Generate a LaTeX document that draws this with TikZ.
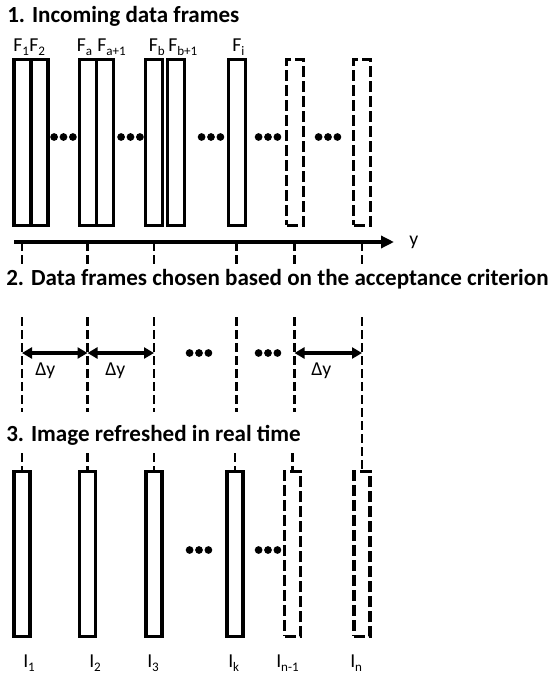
\documentclass[tikz,border=0pt]{standalone}
\usepackage{fontspec}
\setmainfont{Carlito}
\usetikzlibrary{arrows.meta}
\newcommand\subtxt[1]{\raisebox{-3.2pt}{\fontsize{9.8pt}{10pt}\selectfont #1}}
\begin{document}
\begin{tikzpicture}[x=0.75pt,y=-0.75pt,
  frameA/.style={draw, line width=2.6pt, minimum width=12.75pt, minimum height=124.1pt, inner sep=0pt, outer sep=0pt},
  frameAd/.style={frameA, dash pattern=on 8.25pt off 3pt},
  frameB/.style={draw, line width=2.6pt, minimum width=12pt, minimum height=123.4pt, inner sep=0pt, outer sep=0pt},
  frameBd/.style={frameB, dash pattern=on 8.25pt off 3pt},
  dline/.style={line width=2pt, dash pattern=on 6.75pt off 3pt},
  title/.style={font=\bfseries\fontsize{17.3pt}{20pt}\selectfont, anchor=base west, inner sep=0pt},
  lab/.style={font=\fontsize{14.8pt}{17pt}\selectfont, anchor=base west, inner sep=0pt},
  dbl/.style={line width=2.4pt, {Triangle[length=7.5pt,width=8.25pt]}-{Triangle[length=7.5pt,width=8.25pt]}},
  threedots/.pic={\fill (-9.4,0) circle[radius=2.9pt] (0,0) circle[radius=2.9pt] (9.4,0) circle[radius=2.9pt];}
]
\useasboundingbox (0,0) rectangle (551,674);

% ---------- titles ----------
\node[title] (t1) at (7,23) {1. Incoming data frames};
\node[title] (t2) at (6,285) {2. Data frames chosen based on the acceptance criterion};
\node[title] (t3) at (6,441) {3. Image refreshed in real time};

% ---------- section 1: frames ----------
\node[frameA] (F1) at (22.5,142.5) {};
\node[frameA] (F2) at (39.5,142.5) {};
\node[frameA] (Fa) at (88,142.5) {};
\node[frameA] (Fa1) at (105,142.5) {};
\node[frameA] (Fb) at (154,142.5) {};
\node[frameA] (Fb1) at (175.75,142.5) {};
\node[frameA] (Fi) at (237,142.5) {};
\node[frameAd] (Fd1) at (295,142.5) {};
\node[frameAd] (Fd2) at (362,142.5) {};

\node[lab] (lF1) at (13,51) {F\subtxt{1}};
\node[lab] (lF2) at (29,51) {F\subtxt{2}};
\node[lab] (lFa) at (76.5,51) {F\subtxt{a}};
\node[lab] (lFa1) at (97,51) {F\subtxt{a+1}};
\node[lab] (lFb) at (148.5,51) {F\subtxt{b}};
\node[lab] (lFb1) at (168,51) {F\subtxt{b+1}};
\node[lab] (lFi) at (232,51) {F\subtxt{i}};

\pic at (63.5,137) {threedots};
\pic at (130.5,137) {threedots};
\pic at (211,137) {threedots};
\pic at (268,137) {threedots};
\pic at (328,137) {threedots};

% ---------- axis ----------
\coordinate (axL) at (14,242);
\coordinate (axR) at (394,242);
\draw[line width=2.5pt, -{Triangle[length=9.75pt,width=9pt]}] (axL) -- (axR);
\node[lab] (ylab) at (409,245) {y};

\foreach \n/\c in {1/22,2/87.5,3/154,4/236.5,5/294.5,6/362}{
  \coordinate (a\n) at (\c,242);
  \coordinate (b\n) at (\c,265);
  \coordinate (u\n) at (\c,317);
  \coordinate (v\n) at (\c,412);
  \coordinate (w\n) at (\c,353);
  \coordinate (s\n) at (\c,453);
  \draw[dline] (a\n) -- (b\n);
}
\foreach \n in {1,...,5}{ \draw[dline] (u\n) -- (v\n); }

% ---------- section 2 ----------
\draw[dbl] (w1) -- (w2);
\draw[dbl] (w2) -- (w3);
\draw[dbl] (w5) -- (w6);
\node[lab] (d1) at (35,375) {Δy};
\node[lab] (d2) at (105,375) {Δy};
\node[lab] (d3) at (311,375) {Δy};
\pic at (199,353) {threedots};
\pic at (268,353) {threedots};

% ---------- section 3: images ----------
\node[frameB] (I1) at (22,554) {};
\node[frameB] (I2) at (87.5,554) {};
\node[frameB] (I3) at (154,554) {};
\node[frameB] (Ik) at (235,554) {};
\node[frameBd] (In1) at (292.5,554) {};
\node[frameBd] (In) at (362,554) {};

\draw[dline] (s1) -- (I1.north);
\draw[dline] (s2) -- (I2.north);
\draw[dline] (s3) -- (I3.north);
\draw[dline] (s4 -| Ik.north) -- (Ik.north);
\draw[dline] (s5 -| In1.north) -- (In1.north);
\draw[dline] (u6) -- (In.north);

\pic at (199,550) {threedots};
\pic at (268,550) {threedots};

\node[lab] (lI1) at (23,667) {I\subtxt{1}};
\node[lab] (lI2) at (89,667) {I\subtxt{2}};
\node[lab] (lI3) at (147,667) {I\subtxt{3}};
\node[lab] (lIk) at (228,667) {I\subtxt{k}};
\node[lab] (lIn1) at (276,667) {I\subtxt{n-1}};
\node[lab] (lIn) at (350,667) {I\subtxt{n}};
\end{tikzpicture}
\end{document}
